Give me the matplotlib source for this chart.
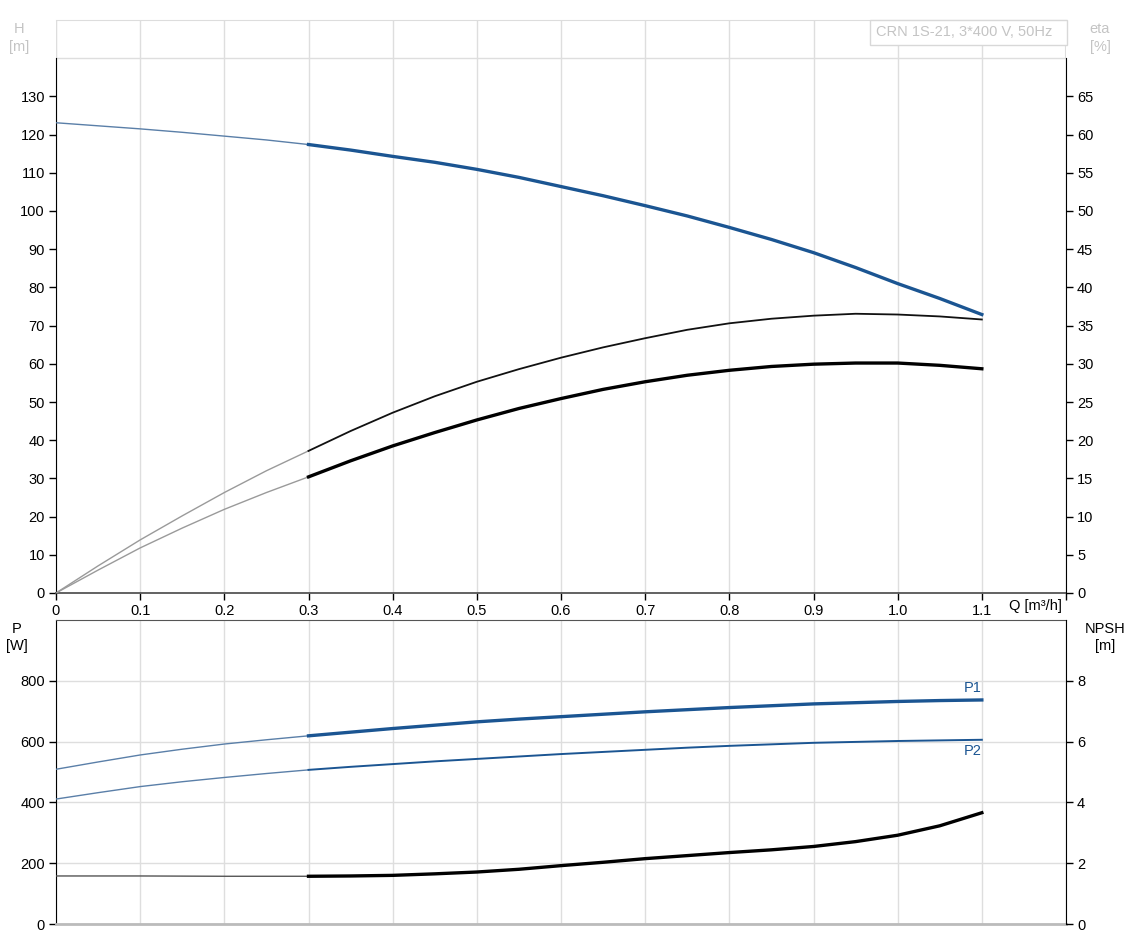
import numpy as np
import matplotlib
matplotlib.use("Agg")
import matplotlib.pyplot as plt
from matplotlib.patches import Rectangle

plt.rcParams["font.family"] = ["Liberation Sans", "DejaVu Sans"]

# flow values [m3/h], read every 0.05
q = [0.0, 0.05, 0.1, 0.15, 0.2, 0.25, 0.3, 0.35, 0.4, 0.45, 0.5, 0.55,
     0.6, 0.65, 0.7, 0.75, 0.8, 0.85, 0.9, 0.95, 1.0, 1.05, 1.1]
# head [m]
head = [123.1, 122.3, 121.5, 120.6, 119.6, 118.6, 117.4, 115.95, 114.3, 112.75, 110.9, 108.8,
        106.4, 104.0, 101.4, 98.7, 95.7, 92.55, 89.1, 85.2, 81.0, 77.1, 72.9]
# efficiencies [%]
eta_upper = [0.0, 3.55, 6.95, 10.1, 13.15, 16.0, 18.6, 21.2, 23.6, 25.75, 27.65, 29.3,
             30.8, 32.15, 33.35, 34.45, 35.3, 35.9, 36.3, 36.55, 36.45, 36.2, 35.8]
eta_lower = [0.0, 3.0, 5.9, 8.5, 10.95, 13.15, 15.2, 17.3, 19.25, 21.0, 22.65, 24.15,
             25.45, 26.65, 27.65, 28.5, 29.15, 29.65, 29.95, 30.1, 30.1, 29.8, 29.35]
# power [W]
p1 = [509, 533, 556, 575, 592, 606, 619, 631, 643, 654, 665, 674,
      682, 690, 698, 705, 712, 718, 724, 728, 732, 735, 737]
p2 = [411, 432, 452, 468, 482, 495, 507, 517, 526, 535, 543, 551,
      559, 566, 573, 580, 586, 591, 596, 599, 602, 604, 606]
# NPSH [m]
npsh = [1.58, 1.58, 1.58, 1.575, 1.57, 1.57, 1.57, 1.58, 1.6, 1.65, 1.71, 1.8,
        1.92, 2.03, 2.15, 2.25, 2.35, 2.44, 2.55, 2.71, 2.92, 3.23, 3.66]

q_labels = ["0", "0.1", "0.2", "0.3", "0.4", "0.5", "0.6", "0.7", "0.8", "0.9", "1.0", "1.1"]

blue = "#1b5592"
thin_blue = "#5a7fa8"
grid_c = "#dedede"
light = "#c4c4c4"
fs = 10.5

q = np.array(q)
lo = q <= 0.3
hi = q >= 0.3

fig = plt.figure(figsize=(11.33, 9.42), dpi=100)
ax1 = fig.add_axes([56 / 1133, 1 - 593 / 942, (1066 - 56) / 1133, (593 - 20) / 942])
ax2 = fig.add_axes([56 / 1133, 1 - 924 / 942, (1066 - 56) / 1133, (924 - 620) / 942])

# ---- top panel: H and eta ----
ax1.set_xlim(0, 1.2)
ax1.set_ylim(0, 150)
ax1.set_xticks(np.arange(0, 1.21, 0.1))
ax1.set_xticklabels(q_labels + [""], fontsize=fs)
ax1.set_yticks(range(0, 131, 10))
ax1.set_yticklabels([str(v) for v in range(0, 131, 10)], fontsize=fs)
ax1.set_yticks(range(0, 141, 10), minor=True)
ax1.grid(True, which="major", axis="x", color=grid_c, lw=1)
ax1.grid(True, which="minor", axis="y", color=grid_c, lw=1)
ax1.tick_params(axis="y", which="minor", length=0)
ax1.tick_params(length=5, width=1, pad=3)
ax1.spines["left"].set_bounds(0, 140)
ax1.spines["top"].set_color("#dddddd")
ax1.spines["bottom"].set_color("#555555")
ax1.spines["bottom"].set_linewidth(1.3)
ax1.spines["right"].set_visible(False)
ax1.axvline(0, ymin=140 / 150, color="#dddddd", lw=1.5)
ax1.axvline(1.2, ymin=140 / 150, color="#dddddd", lw=1.5)

ax1.plot(q[lo], np.array(head)[lo], color=thin_blue, lw=1.0, zorder=3)
ax1.plot(q[hi], np.array(head)[hi], color=blue, lw=2.4, zorder=3)

ax1r = ax1.twinx()
ax1r.set_ylim(0, 75)
ax1r.set_yticks(range(0, 66, 5))
ax1r.set_yticklabels([str(v) for v in range(0, 66, 5)], fontsize=fs)
ax1r.tick_params(length=5, width=1, pad=3)
ax1r.spines["right"].set_bounds(0, 70)
for s in ["left", "top", "bottom"]:
    ax1r.spines[s].set_visible(False)

ax1r.plot(q[lo], np.array(eta_upper)[lo], color="#9a9a9a", lw=1.0)
ax1r.plot(q[lo], np.array(eta_lower)[lo], color="#9a9a9a", lw=1.0)
ax1r.plot(q[hi], np.array(eta_upper)[hi], color="#111111", lw=1.3)
ax1r.plot(q[hi], np.array(eta_lower)[hi], color="#000000", lw=2.4)

fig.text(19 / 1133, 1 - 22 / 942, "H\n[m]", color=light, fontsize=fs, ha="center", va="top",
         linespacing=1.35)
fig.text(1100 / 1133, 1 - 22 / 942, "eta\n[%]", color=light, fontsize=fs, ha="center", va="top",
         linespacing=1.35)
fig.text(1035 / 1133, 1 - 606 / 942, "Q [m³/h]", fontsize=fs, ha="center", va="center")

# model box
fig.add_artist(Rectangle((870 / 1133, 1 - 45 / 942), (1067 - 870) / 1133, 25 / 942,
                         transform=fig.transFigure, fc="white", ec="#d8d8d8", lw=1))
fig.text(876 / 1133, 1 - 32 / 942, "CRN 1S-21, 3*400 V, 50Hz", color=light, fontsize=fs,
         ha="left", va="center")

# ---- bottom panel: P and NPSH ----
ax2.set_xlim(0, 1.2)
ax2.set_ylim(0, 1000)
ax2.set_xticks(np.arange(0, 1.21, 0.1))
ax2.set_xticklabels([])
ax2.tick_params(axis="x", length=0)
ax2.set_yticks(range(0, 801, 200))
ax2.set_yticklabels([str(v) for v in range(0, 801, 200)], fontsize=fs)
ax2.tick_params(axis="y", length=5, width=1, pad=3)
ax2.grid(True, axis="x", color=grid_c, lw=1)
ax2.grid(True, axis="y", color=grid_c, lw=1)
ax2.spines["top"].set_color("#555555")
ax2.spines["bottom"].set_color("#bbbbbb")
ax2.spines["bottom"].set_linewidth(2)
ax2.spines["right"].set_visible(False)

ax2.plot(q[lo], np.array(p1)[lo], color=thin_blue, lw=1.0, zorder=3)
ax2.plot(q[hi], np.array(p1)[hi], color=blue, lw=2.4, zorder=3)
ax2.plot(q[lo], np.array(p2)[lo], color=thin_blue, lw=1.0, zorder=3)
ax2.plot(q[hi], np.array(p2)[hi], color=blue, lw=1.4, zorder=3)
ax2.text(1.1, p1[-1] + 15, "P1", color=blue, fontsize=fs, ha="right", va="bottom")
ax2.text(1.1, p2[-1] - 15, "P2", color=blue, fontsize=fs, ha="right", va="top")

ax2r = ax2.twinx()
ax2r.set_ylim(0, 10)
ax2r.set_yticks(range(0, 9, 2))
ax2r.set_yticklabels([str(v) for v in range(0, 9, 2)], fontsize=fs)
ax2r.tick_params(length=5, width=1, pad=3)
for s in ["left", "top", "bottom"]:
    ax2r.spines[s].set_visible(False)
ax2r.plot(q[lo], np.array(npsh)[lo], color="#555555", lw=1.0)
ax2r.plot(q[hi], np.array(npsh)[hi], color="#000000", lw=2.4)

fig.text(17 / 1133, 1 - 622 / 942, "P\n[W]", fontsize=fs, ha="center", va="top", linespacing=1.3)
fig.text(1105 / 1133, 1 - 622 / 942, "NPSH\n[m]", fontsize=fs, ha="center", va="top",
         linespacing=1.3)

fig.savefig("out.png", dpi=100)
